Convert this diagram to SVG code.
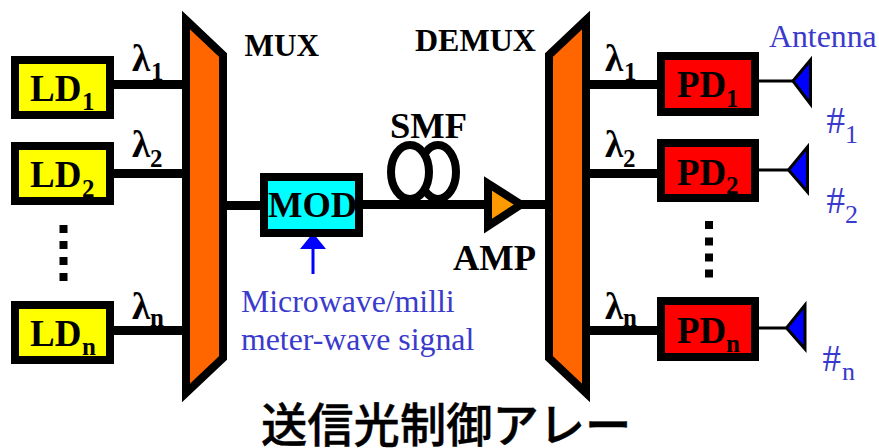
<svg xmlns="http://www.w3.org/2000/svg" width="879" height="448" viewBox="0 0 879 448">
<style>
.bx{stroke:#000;stroke-width:8}
.ld{fill:#ff0}
.pd{fill:#f00}
.t{font-family:"Liberation Serif","Times New Roman",serif;font-weight:700;fill:#000}
.b{font-size:37px}
.l{font-size:32px}
.w{font-size:36.500px}
.s{font-size:25px}
.la{font-size:37px}
.bl{font-family:"Liberation Serif","Times New Roman",serif;fill:#3a3acc;font-size:31.800px}
.h{font-size:37px}
.u{font-size:26px}
.an{fill:#00f;stroke:#000;stroke-width:3;stroke-linejoin:miter}
.c{stroke:#000;fill:none}
.dot{fill:#000}
</style>
<rect width="879" height="448" fill="#fff"/>
<g id="connectors">
<path class="c" stroke-width="9" d="M114 84.5H182M114 173.5H182M114 330.5H182M227 205.5H260M363 204.5H545M590 84.5H657M590 173.5H657M590 330.5H657"/>
<path class="c" stroke-width="3" d="M759 81H793M759 170H788M759 328H786"/>
<path d="M313 274V245" stroke="#00f" stroke-width="3" fill="none"/>
<polygon points="313,233 300,249 326,249" fill="#00f"/>
</g>
<g id="ld1"><rect class="bx ld" x="15" y="60" width="95" height="55"/><text class="t b" x="30" y="101">LD</text><text class="t s" x="82" y="110">1</text></g>
<g id="ld2"><rect class="bx ld" x="15" y="146" width="95" height="55"/><text class="t b" x="30" y="187">LD</text><text class="t s" x="82" y="197">2</text></g>
<g id="ldn"><rect class="bx ld" x="15" y="305" width="95" height="55"/><text class="t b" x="30" y="346">LD</text><text class="t s" x="82" y="355">n</text></g>
<g id="dots-left" class="dot"><rect x="59.500" y="225" width="8" height="8"/><rect x="59.500" y="241" width="8" height="8"/><rect x="59.500" y="257" width="8" height="8"/><rect x="59.500" y="273" width="8" height="8"/></g>
<g id="mux"><polygon class="bx" fill="#f60" points="186,20 223,55 223,358 186,393"/></g>
<g id="demux"><polygon class="bx" fill="#f60" points="586,20 549,55 549,358 586,393"/></g>
<g id="mod"><rect class="bx" fill="#0ff" x="264" y="177" width="95" height="56"/><text class="t w" x="268" y="217">MOD</text></g>
<g id="smf">
<ellipse class="c" stroke-width="8" cx="438" cy="172" rx="18" ry="27"/>
<ellipse stroke="#000" fill="#fff" stroke-width="8" cx="410" cy="172" rx="19" ry="27"/>
</g>
<g id="amp"><polygon class="bx" fill="#f90" points="488,183.500 488,226 521,204.500"/></g>
<g id="pd1"><rect class="bx pd" x="661" y="56" width="94" height="56"/><text class="t b" x="677" y="97">PD</text><text class="t s" x="726" y="107">1</text></g>
<g id="pd2"><rect class="bx pd" x="661" y="143" width="94" height="55"/><text class="t b" x="677" y="185">PD</text><text class="t s" x="726" y="194">2</text></g>
<g id="pdn"><rect class="bx pd" x="661" y="301" width="94" height="56"/><text class="t b" x="677" y="343">PD</text><text class="t s" x="726" y="352">n</text></g>
<g id="dots-right" class="dot"><rect x="705" y="221" width="8" height="8"/><rect x="705" y="237.500" width="8" height="8"/><rect x="705" y="253.500" width="8" height="8"/><rect x="705" y="269.500" width="8" height="8"/></g>
<g id="ant1"><polygon class="an" points="793,81 810.500,60 810.500,104"/></g>
<g id="ant2"><polygon class="an" points="788.500,170 807.500,147 807.500,192"/></g>
<g id="antn"><polygon class="an" points="786.500,328 805,305 805,349"/></g>
<g id="labels">
<text class="t l" x="244.500" y="56" style="font-size:31.200px">MUX</text>
<text class="t l" x="415" y="51">DEMUX</text>
<text class="t w" x="390" y="138">SMF</text>
<text class="t w" x="453" y="270">AMP</text>
<text class="t la" x="132" y="71">λ</text><text class="t s" x="151" y="80">1</text>
<text class="t la" x="132" y="157">λ</text><text class="t s" x="150" y="167">2</text>
<text class="t la" x="132" y="319">λ</text><text class="t s" x="150" y="326">n</text>
<text class="t la" x="605" y="71">λ</text><text class="t s" x="624" y="80">1</text>
<text class="t la" x="605" y="157">λ</text><text class="t s" x="623" y="167">2</text>
<text class="t la" x="605" y="319">λ</text><text class="t s" x="623" y="326">n</text>
<text class="bl" x="769" y="47">Antenna</text>
<text class="bl h" x="826.500" y="133">#</text><text class="bl u" x="845" y="143">1</text>
<text class="bl h" x="826.500" y="213">#</text><text class="bl u" x="845" y="223">2</text>
<text class="bl h" x="822.500" y="371">#</text><text class="bl u" x="842" y="380">n</text>
<text class="bl" x="241" y="312">Microwave/milli</text>
<text class="bl" x="241" y="350">meter-wave signal</text>
<text x="261" y="442" font-family="Noto Sans CJK JP,sans-serif" font-size="46.300" font-weight="500" fill="#000" stroke="#000" stroke-width=".4">送信光制御アレー</text>
</g>
</svg>
